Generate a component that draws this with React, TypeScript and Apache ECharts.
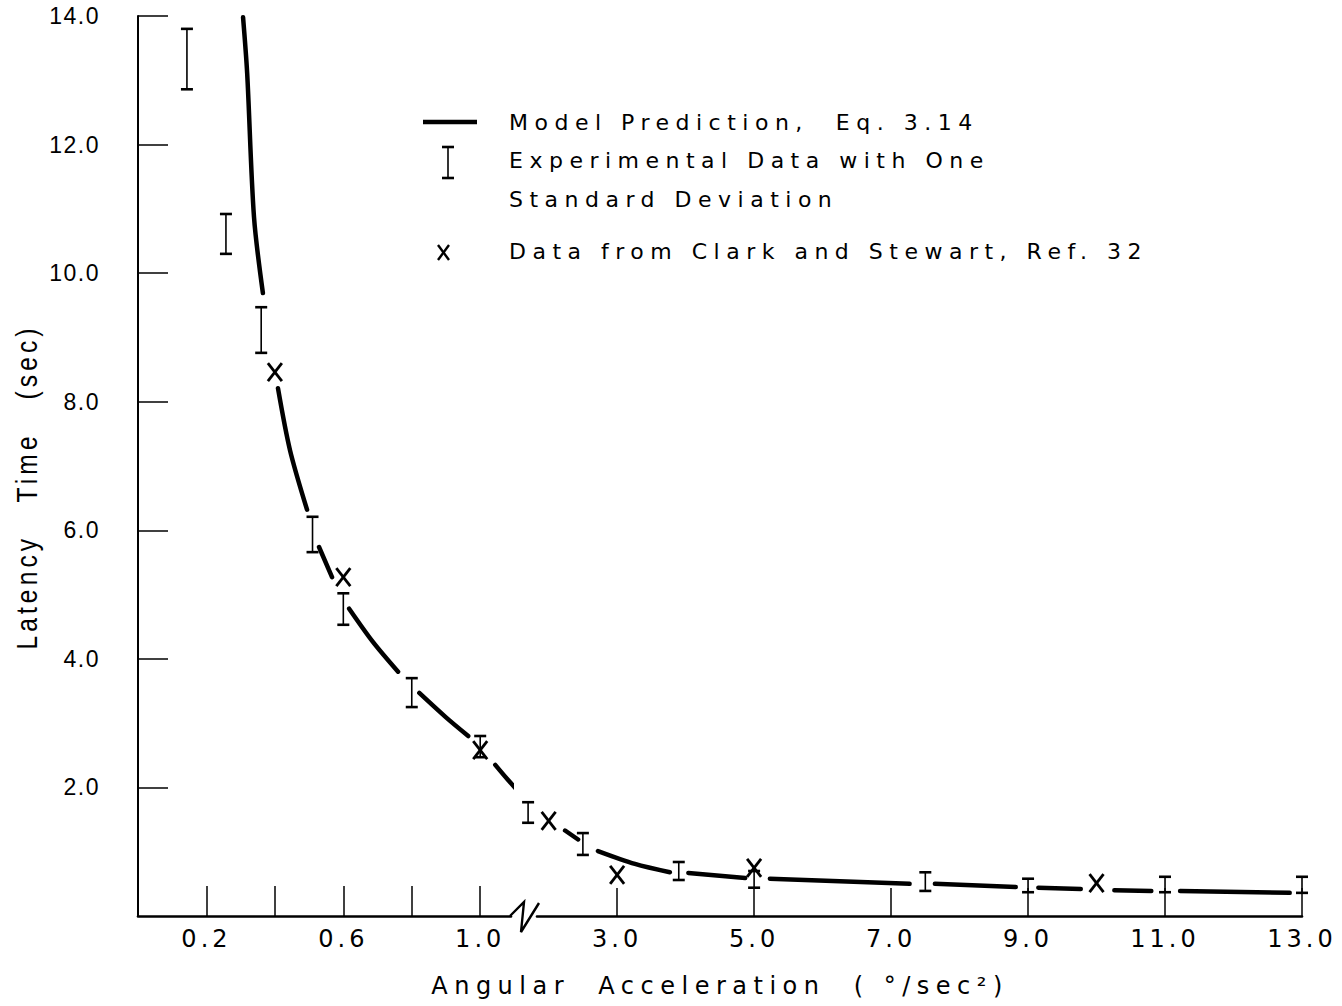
import React, { useEffect, useRef } from "react";
import * as echarts from "echarts";

// ---------- axes ----------
const yTicks = [2, 4, 6, 8, 10, 12, 14];
const lowTicks = [0.2, 0.4, 0.6, 0.8, 1.0];
const lowLabels = [0.2, 0.6, 1.0];
const highTicks = [3, 5, 7, 9, 11, 13];

// ---------- experimental data (mean ± one SD: lower, upper) ----------
const expLowX = [0.143, 0.257, 0.36, 0.51, 0.6, 0.8, 1.0];
const expLowMin = [12.86, 10.3, 8.76, 5.66, 4.53, 3.25, 2.47];
const expLowMax = [13.8, 10.92, 9.47, 6.21, 5.02, 3.7, 2.8];
const expHighX = [1.7, 2.5, 3.9, 5.0, 7.5, 9.0, 11.0, 13.0];
const expHighMin = [1.45, 0.95, 0.56, 0.44, 0.39, 0.37, 0.37, 0.36];
const expHighMax = [1.77, 1.29, 0.84, 0.7, 0.68, 0.58, 0.61, 0.61];

// ---------- Clark and Stewart, Ref. 32 ----------
const csLowX = [0.4, 0.6, 1.0];
const csLowY = [8.46, 5.27, 2.58];
const csHighX = [2.0, 3.0, 5.0, 10.0];
const csHighY = [1.48, 0.64, 0.75, 0.51];

// ---------- Model prediction, Eq. 3.14 (drawn in broken segments) ----------
const modelLow = [
  [[0.307, 13.98], [0.319, 13.11], [0.339, 10.87], [0.365, 9.69]],
  [[0.409, 8.21], [0.444, 7.25], [0.494, 6.32]],
  [[0.529, 5.74], [0.567, 5.27]],
  [[0.617, 4.78], [0.687, 4.26], [0.76, 3.8]],
  [[0.822, 3.47], [0.9, 3.09], [0.965, 2.8]],
  [[1.044, 2.35], [1.079, 2.13], [1.12, 1.89]],
];
const modelHigh = [
  [[2.24, 1.33], [2.43, 1.19]],
  [[2.72, 1.01], [3.26, 0.81], [3.77, 0.68]],
  [[4.04, 0.67], [4.87, 0.59]],
  [[5.23, 0.58], [7.27, 0.5]],
  [[7.64, 0.5], [8.82, 0.45]],
  [[9.15, 0.44], [9.77, 0.42]],
  [[10.26, 0.4], [10.8, 0.39]],
  [[11.22, 0.39], [12.82, 0.36]],
];

function joinSegments(segs: number[][][]) {
  const out: any[] = [];
  segs.forEach((s, i) => {
    if (i > 0) out.push([s[0][0], "-"]);
    s.forEach((p) => out.push(p));
  });
  return out;
}

const errorBarItem = (params: any, api: any) => {
  const x = api.value(0);
  const top = api.coord([x, api.value(2)]);
  const bot = api.coord([x, api.value(1)]);
  const hw = 6;
  const cap = { stroke: "#000", lineWidth: 2.6 };
  return {
    type: "group",
    children: [
      { type: "line", shape: { x1: top[0], y1: top[1], x2: bot[0], y2: bot[1] }, style: { stroke: "#000", lineWidth: 1.6 } },
      { type: "line", shape: { x1: top[0] - hw, y1: top[1], x2: top[0] + hw, y2: top[1] }, style: cap },
      { type: "line", shape: { x1: bot[0] - hw, y1: bot[1], x2: bot[0] + hw, y2: bot[1] }, style: cap },
    ],
  };
};

const crossItem = (params: any, api: any) => {
  const c = api.coord([api.value(0), api.value(1)]);
  const hw = 7;
  const hh = 9;
  const st = { stroke: "#000", lineWidth: 2.8 };
  return {
    type: "group",
    children: [
      { type: "line", shape: { x1: c[0] - hw, y1: c[1] - hh, x2: c[0] + hw, y2: c[1] + hh }, style: st },
      { type: "line", shape: { x1: c[0] + hw, y1: c[1] - hh, x2: c[0] - hw, y2: c[1] + hh }, style: st },
    ],
  };
};

const LEG_FONT = "DejaVu Sans";
const TICK_FONT = "DejaVu Sans, sans-serif";
const YTICK_FONT = "Liberation Sans, Arimo";

function legendText(text: string, x: number, y: number) {
  return {
    type: "text",
    x,
    y,
    style: {
      text,
      fill: "#000",
      fontSize: 22,
      fontFamily: LEG_FONT,
      textAlign: "left",
      textVerticalAlign: "middle",
      align: "left",
      verticalAlign: "middle",
    },
  };
}

export default function App() {
  const ref = useRef<HTMLDivElement>(null);

  useEffect(() => {
    if (!ref.current) return;
    const chart = echarts.init(ref.current, undefined, { renderer: "svg" });

    const xAxisBase = (gridIndex: number, min: number, max: number, ticks: number[], labels: number[], tickLen: number) => ({
      gridIndex,
      type: "value",
      min,
      max,
      axisLine: { show: true, onZero: false, lineStyle: { color: "#000", width: 2.6 } },
      axisTick: { show: true, inside: true, length: tickLen, customValues: ticks, lineStyle: { color: "#000", width: 1.5 } },
      axisLabel: {
        show: true,
        customValues: labels,
        formatter: (v: number) => v.toFixed(1),
        color: "#000",
        fontSize: 24,
        fontFamily: TICK_FONT,
        margin: 11,
      },
      splitLine: { show: false },
    });

    const option: any = {
      animation: false,
      backgroundColor: "#fff",
      grid: [
        { left: 138, top: 16, width: 373, height: 900, outerBoundsMode: "none", containLabel: false },
        { left: 537, top: 16, width: 765, height: 900, outerBoundsMode: "none", containLabel: false },
      ],
      xAxis: [
        xAxisBase(0, 0, 1.09, lowTicks, lowLabels, 30),
        xAxisBase(1, 1.83, 13, highTicks, highTicks, 28),
      ],
      yAxis: [
        {
          gridIndex: 0,
          type: "value",
          min: 0,
          max: 14,
          axisLine: { show: true, onZero: false, lineStyle: { color: "#000", width: 2 } },
          axisTick: { show: true, inside: true, length: 30, customValues: yTicks, lineStyle: { color: "#000", width: 1.5 } },
          axisLabel: {
            show: true,
            customValues: yTicks,
            formatter: (v: number) => v.toFixed(1),
            color: "#000",
            fontSize: 23,
            fontFamily: YTICK_FONT,
            margin: 38,
          },
          splitLine: { show: false },
        },
        { gridIndex: 1, type: "value", min: 0, max: 14, show: false, splitLine: { show: false } },
      ],
      series: [
        {
          type: "line",
          name: "Model Prediction, Eq. 3.14",
          xAxisIndex: 0,
          yAxisIndex: 0,
          data: joinSegments(modelLow),
          showSymbol: false,
          symbol: "none",
          smooth: 0.3,
          connectNulls: false,
          clip: false,
          lineStyle: { color: "#000", width: 4.5, cap: "round" },
        },
        {
          type: "line",
          name: "Model Prediction, Eq. 3.14 (high)",
          xAxisIndex: 1,
          yAxisIndex: 1,
          data: joinSegments(modelHigh),
          showSymbol: false,
          symbol: "none",
          smooth: 0.3,
          connectNulls: false,
          clip: false,
          lineStyle: { color: "#000", width: 4.5, cap: "round" },
        },
        {
          type: "custom",
          name: "Experimental Data",
          xAxisIndex: 0,
          yAxisIndex: 0,
          clip: false,
          encode: { x: 0, y: [1, 2] },
          data: expLowX.map((x, i) => [x, expLowMin[i], expLowMax[i]]),
          renderItem: errorBarItem,
        },
        {
          type: "custom",
          name: "Experimental Data (high)",
          xAxisIndex: 1,
          yAxisIndex: 1,
          clip: false,
          encode: { x: 0, y: [1, 2] },
          data: expHighX.map((x, i) => [x, expHighMin[i], expHighMax[i]]),
          renderItem: errorBarItem,
        },
        {
          type: "custom",
          name: "Clark and Stewart",
          xAxisIndex: 0,
          yAxisIndex: 0,
          clip: false,
          encode: { x: 0, y: 1 },
          data: csLowX.map((x, i) => [x, csLowY[i]]),
          renderItem: crossItem,
        },
        {
          type: "custom",
          name: "Clark and Stewart (high)",
          xAxisIndex: 1,
          yAxisIndex: 1,
          clip: false,
          encode: { x: 0, y: 1 },
          data: csHighX.map((x, i) => [x, csHighY[i]]),
          renderItem: crossItem,
        },
      ],
      graphic: [
        // axis break mark
        {
          type: "polyline",
          shape: { points: [[510, 916], [524, 902], [521, 932], [539, 903]] },
          style: { stroke: "#000", lineWidth: 2.4, fill: null },
        },
        // legend: model line
        { type: "line", shape: { x1: 423, y1: 122, x2: 477, y2: 122 }, style: { stroke: "#000", lineWidth: 4.5 } },
        legendText("Model Prediction,  Eq. 3.14", 509, 122),
        // legend: error bar symbol
        {
          type: "group",
          children: [
            { type: "line", shape: { x1: 448, y1: 147, x2: 448, y2: 178 }, style: { stroke: "#000", lineWidth: 1.6 } },
            { type: "line", shape: { x1: 442, y1: 147, x2: 454, y2: 147 }, style: { stroke: "#000", lineWidth: 2.6 } },
            { type: "line", shape: { x1: 442, y1: 178, x2: 454, y2: 178 }, style: { stroke: "#000", lineWidth: 2.6 } },
          ],
        },
        legendText("Experimental Data with One", 509, 160),
        legendText("Standard Deviation", 509, 199),
        // legend: cross symbol
        {
          type: "group",
          children: [
            { type: "line", shape: { x1: 438, y1: 245, x2: 449, y2: 260 }, style: { stroke: "#000", lineWidth: 2.4 } },
            { type: "line", shape: { x1: 449, y1: 245, x2: 438, y2: 260 }, style: { stroke: "#000", lineWidth: 2.4 } },
          ],
        },
        legendText("Data from Clark and Stewart, Ref. 32", 509, 251),
        // axis titles
        {
          type: "text",
          x: 720,
          y: 986,
          style: {
            text: "Angular  Acceleration  ( °/sec²)",
            fill: "#000",
            fontSize: 24,
            fontFamily: LEG_FONT,
            textAlign: "center",
            textVerticalAlign: "middle",
            align: "center",
            verticalAlign: "middle",
          },
        },
        {
          type: "text",
          x: 27,
          y: 487,
          rotation: Math.PI / 2,
          scaleX: 0.82,
          style: {
            text: "Latency   Time   (sec)",
            fill: "#000",
            fontSize: 30,
            fontFamily: "Liberation Sans, Arial Narrow",
            textAlign: "center",
            textVerticalAlign: "middle",
            align: "center",
            verticalAlign: "middle",
          },
        },
      ],
    };

    chart.setOption(option);
    return () => chart.dispose();
  }, []);

  return (
    <>
      <style>{`
        #chart-root text { white-space: pre; }
        #chart-root text[style*="DejaVu Sans"] { letter-spacing: 6.5px; }
        #chart-root text[style*="sans-serif"] { letter-spacing: 4px; }
        #chart-root text[style*="Narrow"] { letter-spacing: 5px; }
        #chart-root text[style*="Arimo"] { letter-spacing: 1.5px; }
      `}</style>
      <div
        id="chart-root"
        ref={ref}
        style={{ position: "fixed", left: 0, top: 0, width: 1342, height: 1006, background: "#fff" }}
      />
    </>
  );
}
